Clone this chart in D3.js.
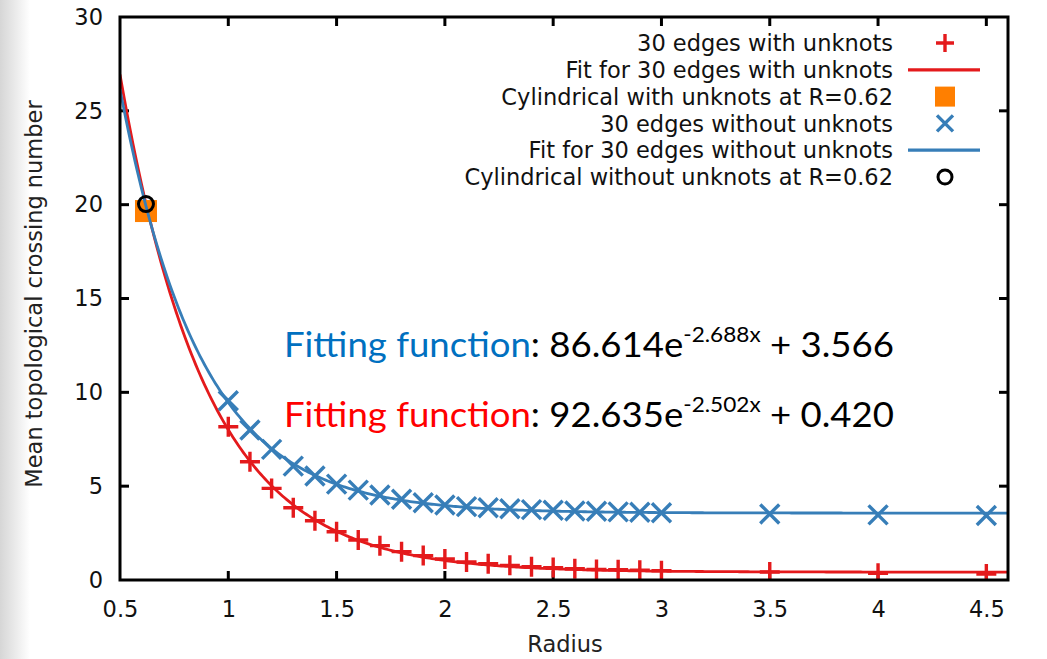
<!DOCTYPE html>
<html><head><meta charset="utf-8">
<script src="https://cdn.jsdelivr.net/npm/d3@7"></script>
<style>html,body{margin:0;padding:0;background:#fff;}svg{display:block;}</style>
</head><body>
<svg id="chart" width="1047" height="659"></svg>
<script>
// ---- data ----
const radius = [1.0,1.1,1.2,1.3,1.4,1.5,1.6,1.7,1.8,1.9,2.0,2.1,2.2,2.3,2.4,2.5,2.6,2.7,2.8,2.9,3.0,3.5,4.0,4.5];
const withUnknots = [8.17,6.30,4.88,3.85,3.16,2.57,2.13,1.83,1.51,1.30,1.12,0.96,0.87,0.78,0.71,0.66,0.60,0.56,0.55,0.52,0.49,0.43,0.36,0.32];
const withoutUnknots = [9.55,7.99,6.96,6.07,5.54,5.11,4.79,4.53,4.30,4.12,4.00,3.91,3.85,3.80,3.75,3.72,3.68,3.66,3.63,3.61,3.58,3.52,3.47,3.44];
const fitWith = [92.635, 2.502, 0.420];     // a, b, c of a*exp(-b x)+c
const fitWithout = [86.614, 2.688, 3.566];
const cylR = [0.62];
const cylWith = [19.66];
const cylWithout = [20.03];
const xTicks = [0.5,1,1.5,2,2.5,3,3.5,4,4.5];
const yTicks = [0,5,10,15,20,25,30];
const legendLabels = ["30 edges with unknots","Fit for 30 edges with unknots","Cylindrical with unknots at R=0.62","30 edges without unknots","Fit for 30 edges without unknots","Cylindrical without unknots at R=0.62"];

const RED = "#e41a1c", BLUE = "#377eb8", ORANGE = "#ff7f00";

const svg = d3.select("#chart");
// left grey strip
const defs = svg.append("defs");
const g0 = defs.append("linearGradient").attr("id","strip").attr("x1","0").attr("x2","1");
g0.append("stop").attr("offset","0").attr("stop-color","#d6d6d6");
g0.append("stop").attr("offset","0.45").attr("stop-color","#e8e8e8");
g0.append("stop").attr("offset","1").attr("stop-color","#ffffff");
svg.append("rect").attr("x",0).attr("y",0).attr("width",30).attr("height",659).attr("fill","url(#strip)");

const L = 120, R = 1008, T = 17, B = 580;
const x = d3.scaleLinear().domain([0.5,4.6]).range([L,R]);
const y = d3.scaleLinear().domain([0,30]).range([B,T]);

defs.append("clipPath").attr("id","clip").append("rect").attr("x",L).attr("y",T).attr("width",R-L).attr("height",B-T);

const font = "'DejaVu Sans', Verdana, sans-serif";
const FS = 22.5;

// ticks (all four sides, inward)
const tickLen = 9;
const axG = svg.append("g").attr("stroke","#000").attr("stroke-width",3);
xTicks.forEach(t => {
  if (t === 0.5) return;
  axG.append("line").attr("x1",x(t)).attr("x2",x(t)).attr("y1",B).attr("y2",B-tickLen);
  axG.append("line").attr("x1",x(t)).attr("x2",x(t)).attr("y1",T).attr("y2",T+tickLen);
});
yTicks.forEach(t => {
  if (t === 0 || t === 30) return;
  axG.append("line").attr("x1",L).attr("x2",L+tickLen).attr("y1",y(t)).attr("y2",y(t));
  axG.append("line").attr("x1",R).attr("x2",R-tickLen).attr("y1",y(t)).attr("y2",y(t));
});

// tick labels via d3 axes (lines hidden)
const xAxis = svg.append("g").attr("transform",`translate(0,${B})`)
  .call(d3.axisBottom(x).tickValues(xTicks).tickFormat(d3.format("")).tickSize(0).tickPadding(21));
const yAxis = svg.append("g").attr("transform",`translate(${L},0)`)
  .call(d3.axisLeft(y).tickValues(yTicks).tickSize(0).tickPadding(17));
[xAxis,yAxis].forEach(a => {
  a.select(".domain").remove();
  a.selectAll("text").attr("font-family",font).attr("font-size",FS).attr("fill","#111");
});

// axis titles
svg.append("text").attr("x",565).attr("y",652).attr("text-anchor","middle")
  .attr("font-family",font).attr("font-size",FS).attr("fill","#222").text("Radius");
svg.append("text").attr("transform","translate(42,294) rotate(-90)").attr("text-anchor","middle")
  .attr("font-family",font).attr("font-size",FS).attr("fill","#222").text("Mean topological crossing number");

// marker helpers
function plus(g, cx, cy, s, color){
  g.append("path").attr("d",`M${cx-s},${cy}H${cx+s}M${cx},${cy-s}V${cy+s}`)
   .attr("stroke",color).attr("stroke-width",3.4).attr("fill","none");
}
function cross(g, cx, cy, s, color){
  g.append("path").attr("d",`M${cx-s},${cy-s}L${cx+s},${cy+s}M${cx-s},${cy+s}L${cx+s},${cy-s}`)
   .attr("stroke",color).attr("stroke-width",3.4).attr("fill","none");
}

const plot = svg.append("g").attr("clip-path","url(#clip)");
const line = d3.line().x(d=>x(d[0])).y(d=>y(d[1]));
const xs = d3.range(0.5, 4.6001, 0.01);
const fitPts = p => xs.map(v => [v, p[0]*Math.exp(-p[1]*v)+p[2]]);

// red points and fit
radius.forEach((r,i) => plus(plot, x(r), y(withUnknots[i]), 10, RED));
plot.append("path").attr("d",line(fitPts(fitWith))).attr("stroke",RED).attr("stroke-width",2.8).attr("fill","none");
// orange square
cylR.forEach((r,i) => plot.append("rect").attr("x",x(r)-11).attr("y",y(cylWith[i])-11).attr("width",22).attr("height",22).attr("fill",ORANGE));
// blue points and fit
radius.forEach((r,i) => cross(plot, x(r), y(withoutUnknots[i]), 9.5, BLUE));
plot.append("path").attr("d",line(fitPts(fitWithout))).attr("stroke",BLUE).attr("stroke-width",2.8).attr("fill","none");
// black circle
cylR.forEach((r,i) => plot.append("circle").attr("cx",x(r)).attr("cy",y(cylWithout[i])).attr("r",7.5).attr("fill","none").attr("stroke","#000").attr("stroke-width",3));

// frame
svg.append("rect").attr("x",L).attr("y",T).attr("width",R-L).attr("height",B-T)
  .attr("fill","none").attr("stroke","#000").attr("stroke-width",3);

// legend
const lg = svg.append("g");
const rowY = i => 43 + i*26.8;
const sx = 945;
legendLabels.forEach((t,i) => {
  lg.append("text").attr("x",893).attr("y",rowY(i)).attr("dy","0.36em").attr("text-anchor","end")
    .attr("font-family",font).attr("font-size",FS).attr("fill","#111").text(t);
});
plus(lg, sx, rowY(0), 9, RED);
lg.append("line").attr("x1",908).attr("x2",980).attr("y1",rowY(1)).attr("y2",rowY(1)).attr("stroke",RED).attr("stroke-width",3.2);
lg.append("rect").attr("x",sx-10).attr("y",rowY(2)-10).attr("width",20).attr("height",20).attr("fill",ORANGE);
cross(lg, sx, rowY(3), 8, BLUE);
lg.append("line").attr("x1",908).attr("x2",980).attr("y1",rowY(4)).attr("y2",rowY(4)).attr("stroke",BLUE).attr("stroke-width",3.2);
lg.append("circle").attr("cx",sx).attr("cy",rowY(5)).attr("r",7).attr("fill","none").attr("stroke","#000").attr("stroke-width",3);

// fitting-function annotations
const annFont = "'Lato', 'Noto Sans', sans-serif";
function annotation(yBase, color, coeff, expo, constTerm, targetW){
  const t = svg.append("text").attr("x",284).attr("y",yBase).attr("font-family",annFont).attr("font-size",34).attr("fill","#000");
  t.append("tspan").attr("fill",color).text("Fitting function");
  t.append("tspan").text(": " + coeff + "e");
  t.append("tspan").attr("font-size",21).attr("dy",-15).text(expo);
  t.append("tspan").attr("dy",15).text(" + " + constTerm);
  t.attr("textLength", targetW).attr("lengthAdjust","spacingAndGlyphs");
}
annotation(357, "#0070c0", fitWithout[0].toFixed(3), "-" + fitWithout[1].toFixed(3) + "x", fitWithout[2].toFixed(3), 610);
annotation(427, "#ff0000", fitWith[0].toFixed(3), "-" + fitWith[1].toFixed(3) + "x", fitWith[2].toFixed(3), 610);
</script>
</body></html>
